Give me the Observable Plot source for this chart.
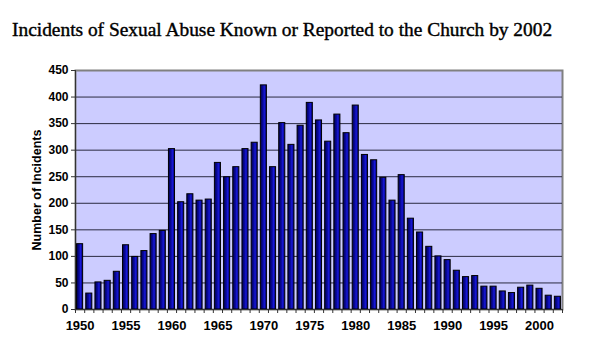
<!DOCTYPE html>
<html>
<head>
<meta charset="utf-8">
<script src="https://cdn.jsdelivr.net/npm/d3@7"></script>
<script src="https://cdn.jsdelivr.net/npm/@observablehq/plot@0.6"></script>
<style>
  body { margin: 0; background: #fff; width: 600px; height: 360px; overflow: hidden; }
  #title { font-family: "Liberation Serif", "DejaVu Serif", serif; font-size: 19.4px; height: 50px; line-height: 20px; padding-top: 20px; box-sizing: border-box; padding-left: 12px; color: #000; white-space: nowrap; -webkit-text-stroke: 0.4px #000; }
</style>
</head>
<body>
<div id="title">Incidents of Sexual Abuse Known or Reported to the Church by 2002</div>
<div id="chart"></div>
<script>
const years = d3.range(1950, 2003);
const incidents = [
  123, 30, 51, 54, 71, 121, 99, 110, 142, 148,
  302, 202, 217, 205, 207, 276, 249, 268, 302, 314,
  422, 268, 351, 310, 346, 389, 356, 316, 367, 332,
  384, 291, 281, 248, 205, 253, 171, 145, 118, 100,
  93, 73, 61, 63, 43, 43, 34, 31, 41, 45,
  39, 26, 24
];
const yTicks = [0, 50, 100, 150, 200, 250, 300, 350, 400, 450];
const xLabelTicks = [1950, 1955, 1960, 1965, 1970, 1975, 1980, 1985, 1990, 1995, 2000];
const yLabel = "Number of Incidents";

const data = years.map((y, i) => ({year: y, value: incidents[i]}));
const boundaries = d3.range(1949.5, 2003, 1);
const half = 0.33;

const chart = Plot.plot({
  width: 600,
  height: 310,
  marginTop: 20,
  marginBottom: 51,
  marginLeft: 75,
  marginRight: 38,
  style: {fontFamily: "Liberation Sans, Arial, sans-serif", fontWeight: "bold", fontSize: "12px", color: "#000", background: "transparent"},
  x: {domain: [1949.5, 2002.5]},
  y: {domain: [0, 450]},
  marks: [
    Plot.frame({fill: "#ccccff", stroke: "#808080", strokeWidth: 2}),
    Plot.ruleY(yTicks.filter(d => d > 0 && d < 450), {stroke: "#2a2a40", strokeWidth: 1}),
    Plot.rectY(data, {x1: d => d.year - half, x2: d => d.year + half, y: "value", fill: "url(#barGrad)", stroke: "#000", strokeWidth: 1}),
    Plot.ruleX([1949.5], {stroke: "#333", strokeWidth: 1}),
    Plot.ruleY([0], {stroke: "#333", strokeWidth: 1}),
    Plot.axisY({ticks: yTicks, tickSize: 4, tickPadding: 3, label: null, fontSize: 12, stroke: "#333"}),
    Plot.axisX({ticks: boundaries, tickSize: 4, tickFormat: () => "", label: null, stroke: "#333"}),
    Plot.axisX({ticks: xLabelTicks, tickSize: 0, tickPadding: 11, tickFormat: d => String(d), label: null, fontSize: 13}),
    Plot.text([yLabel], {frameAnchor: "left", textAnchor: "middle", dx: -39, rotate: -90, fontSize: 12.5, fontWeight: "bold", text: d => d})
  ]
});

const ns = "http://www.w3.org/2000/svg";
const defs = document.createElementNS(ns, "defs");
defs.innerHTML = `<linearGradient id="barGrad" x1="0" x2="1" y1="0" y2="0">
  <stop offset="0" stop-color="#00004a"/>
  <stop offset="0.45" stop-color="#0a0aa0"/>
  <stop offset="0.65" stop-color="#1818d8"/>
  <stop offset="1" stop-color="#000070"/>
</linearGradient>`;
chart.insertBefore(defs, chart.firstChild);
document.getElementById("chart").appendChild(chart);
</script>
</body>
</html>
